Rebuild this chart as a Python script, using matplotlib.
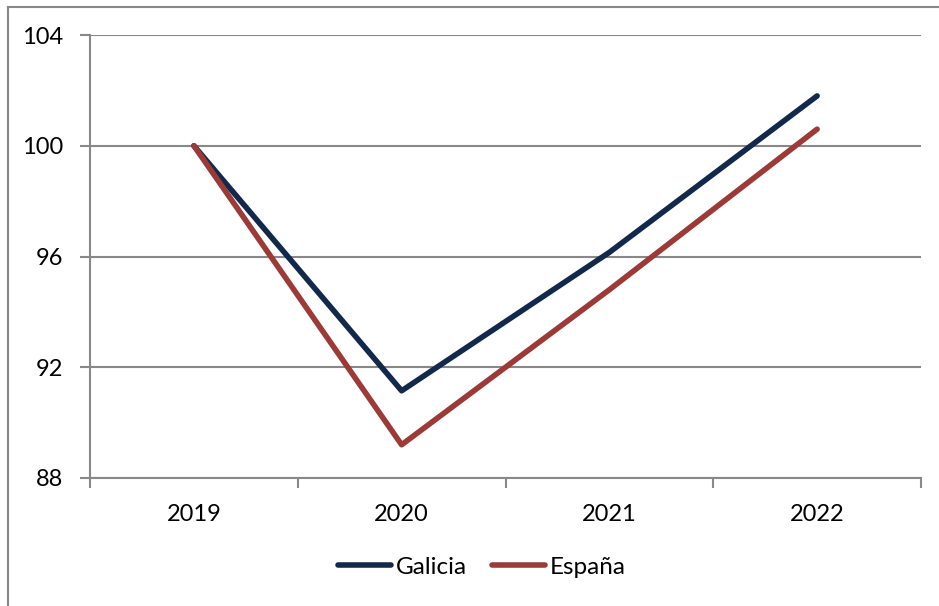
import matplotlib.pyplot as plt
from matplotlib.lines import Line2D

years = ["2019", "2020", "2021", "2022"]
galicia = [100.0, 91.15, 96.15, 101.8]
espana = [100.0, 89.2, 94.8, 100.6]
y_ticks = [88, 92, 96, 100, 104]

grid_color = "#888888"
plt.rcParams["font.family"] = ["Lato", "DejaVu Sans"]

fig = plt.figure(figsize=(9.39, 6.06), dpi=100)
ax = fig.add_axes([90 / 939, 1 - 478 / 606, (921 - 90) / 939, (478 - 35) / 606])

x = range(len(years))
ax.plot(x, galicia, color="#13294b", lw=4, solid_capstyle="round", label="Galicia", zorder=3)
ax.plot(x, espana, color="#9b3a36", lw=4, solid_capstyle="round", label="España", zorder=3)

ax.set_xlim(-0.5, len(years) - 0.5)
ax.set_ylim(88, 104)
ax.set_yticks(y_ticks)
ax.set_yticklabels([str(v) for v in y_ticks])
ax.set_xticks(list(x))
ax.set_xticklabels(years)
ax.set_xticks([i - 0.5 for i in range(len(years) + 1)], minor=True)

ax.grid(axis="y", color=grid_color, lw=1.5)
ax.set_axisbelow(True)
for s in ["top", "right"]:
    ax.spines[s].set_visible(False)
for s in ["left", "bottom"]:
    ax.spines[s].set_color(grid_color)
    ax.spines[s].set_linewidth(1.5)

ax.tick_params(axis="y", length=7, width=1.5, color=grid_color, pad=12, labelsize=17)
ax.tick_params(axis="x", which="major", length=0, pad=19, labelsize=17)
ax.tick_params(axis="x", which="minor", length=7, width=1.5, color=grid_color)

fig.legend(loc="center", bbox_to_anchor=(482 / 939, 1 - 567 / 606), ncol=2,
           frameon=False, fontsize=17.5, handlelength=2.2, handletextpad=0.2,
           columnspacing=1.0)

# outer chart frame (only left and top edges are visible in the crop)
fig.add_artist(Line2D([8 / 939, 8 / 939], [0, 1 - 7 / 606], color=grid_color, lw=1.5,
                      transform=fig.transFigure))
fig.add_artist(Line2D([8 / 939, 1], [1 - 7 / 606, 1 - 7 / 606], color=grid_color, lw=1.5,
                      transform=fig.transFigure))

fig.savefig("out.png", dpi=100)
